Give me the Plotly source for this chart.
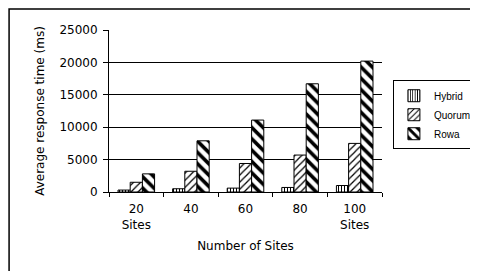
import plotly.graph_objects as go

categories = ["20<br>Sites", "40", "60", "80", "100<br>Sites"]
hybrid = [300, 500, 600, 700, 1000]
quorum = [1500, 3200, 4400, 5700, 7500]
rowa = [2800, 7900, 11100, 16700, 20200]
y_ticks = [0, 5000, 10000, 15000, 20000, 25000]
y_labels = ["0", "5000", "10000", "15000", "20000", "25000"]

fig = go.Figure()
series = [("Hybrid", hybrid, "|", 0.35, 3), ("Quorum", quorum, "/", 0.25, 5), ("Rowa", rowa, "\\", 0.45, 8)]
for name, vals, shape, solid, size in series:
    fig.add_trace(go.Bar(
        x=categories, y=vals, name=name,
        marker=dict(color="white", line=dict(color="black", width=1),
                    pattern=dict(shape=shape, fgcolor="black", bgcolor="white",
                                 solidity=solid, size=size, fillmode="replace")),
    ))

fig.update_layout(
    width=470, height=263,
    margin=dict(l=101, r=96, t=22, b=79, autoexpand=False),
    paper_bgcolor="white", plot_bgcolor="white",
    barmode="group", bargap=0.33, bargroupgap=0,
    font=dict(family="DejaVu Sans, Verdana", size=12, color="black"),
    showlegend=True,
    legend=dict(x=1.04, y=0.69, xanchor="left", yanchor="top",
                bordercolor="black", borderwidth=1, bgcolor="white",
                font=dict(family="Liberation Sans, Arial", size=10), itemwidth=30, tracegroupgap=0),
    xaxis=dict(showline=True, linecolor="black", linewidth=1,
               ticks="outside", tickson="boundaries", ticklen=4, tickcolor="black",
               ticklabelstandoff=6,
               title=dict(text="Number of Sites", font=dict(size=12), standoff=10),
               tickfont=dict(size=12), automargin=False),
    yaxis=dict(range=[0, 25000], tickvals=y_ticks, ticktext=y_labels, showline=True, linecolor="black",
               linewidth=1, ticks="outside", ticklen=5, tickcolor="black",
               ticklabelstandoff=3,
               showgrid=True, gridcolor="black", gridwidth=1,
               title=dict(text="Average response time (ms)", font=dict(size=12), standoff=12),
               tickfont=dict(size=12), zeroline=False, automargin=False),
    shapes=[dict(type="rect", xref="paper", yref="paper",
                 x0=-0.366, x1=1.343, y0=-0.6, y1=1.13,
                 line=dict(color="black", width=1.5))],
)
fig.write_html("out.html")
